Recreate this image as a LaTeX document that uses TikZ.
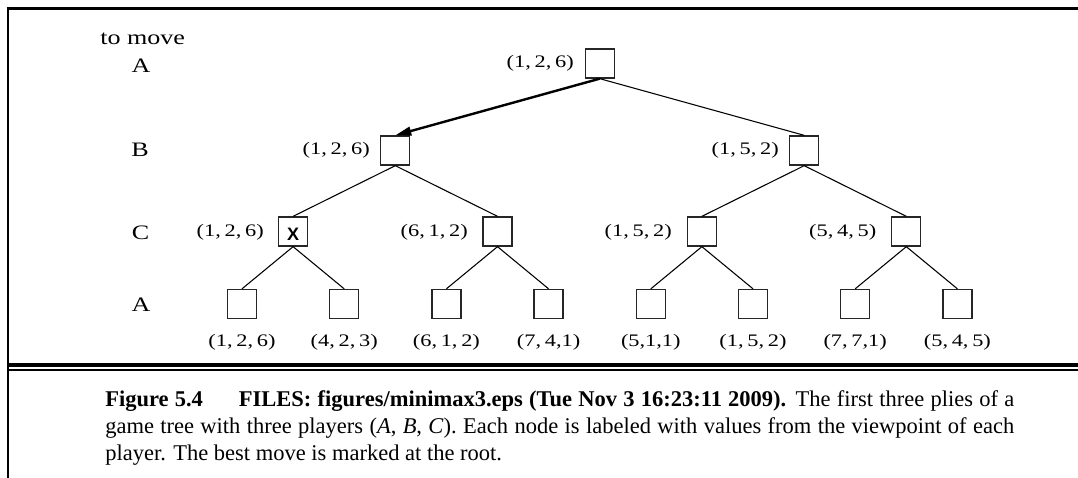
\documentclass[tikz,border=0pt]{standalone}
\usepackage{fontspec}
\setmainfont{Liberation Serif}
\newfontfamily\xfont{Liberation Sans}
\usepackage{graphicx}
\usetikzlibrary{arrows.meta}
\newcommand{\hs}[1]{\scalebox{1.27}[1]{#1}}
\begin{document}
\begin{tikzpicture}[x=0.75pt,y=-0.75pt,
  box/.style={draw=black!85, line width=1pt, minimum size=21.75pt, inner sep=0pt},
  edge/.style={line width=0.8pt},
  best/.style={line width=1.8pt, -{Triangle[length=12pt,width=6.5pt]}},
  val/.style={inner sep=0pt, font=\fontsize{13.2}{15}\selectfont},
  lvl/.style={inner sep=0pt, anchor=base, font=\fontsize{15.4}{18}\selectfont},
  captxt/.style={inner sep=0pt, anchor=base west, font=\fontsize{16.875}{20.25}\selectfont},
]
\useasboundingbox (0,0) rectangle (1078,478);
% frame
\draw[line width=2.25pt] (6.5,8.3) -- (1078,8.3);
\draw[line width=2pt] (8,7) -- (8,478);
\draw[line width=2.4pt] (8,365) -- (1078,365);
\draw[line width=1.7pt] (8,369.8) -- (1078,369.8);
% level labels
\node[lvl, anchor=base west] (tm) at (100,45) {\hs{to move}};
\node[lvl] (la) at (141,72.7) {\hs{A}};
\node[lvl] (lb) at (140,156.7) {\hs{B}};
\node[lvl] (lc) at (140.5,239.5) {\hs{C}};
\node[lvl] (ld) at (141,311.3) {\hs{A}};
% tree nodes
\node[box] (r) at (599.75,63.5) {};
\node[box] (b1) at (395.3,150.5) {};
\node[box] (b2) at (804.2,150.5) {};
\node[box] (c1) at (293.1,231.5) {};
\node[box] (c2) at (497.5,231.5) {};
\node[box] (c3) at (701.9,231.5) {};
\node[box] (c4) at (906.3,231.5) {};
\node[inner sep=0pt, font=\xfont\bfseries\fontsize{13.5}{15}\selectfont] (xm) at (293.1,234) {X};
\foreach \i/\x in {1/242,2/344.2,3/446.4,4/548.6,5/650.8,6/753,7/855.2,8/957.4}
  \node[box] (d\i) at (\x,304) {};
% edges
\draw[best] (r.south) -- (b1.north);
\draw[edge] (r.south) -- (b2.north);
\draw[edge] (b1.south) -- (c1.north);
\draw[edge] (b1.south) -- (c2.north);
\draw[edge] (b2.south) -- (c3.north);
\draw[edge] (b2.south) -- (c4.north);
\draw[edge] (c1.south) -- (d1.north);
\draw[edge] (c1.south) -- (d2.north);
\draw[edge] (c2.south) -- (d3.north);
\draw[edge] (c2.south) -- (d4.north);
\draw[edge] (c3.south) -- (d5.north);
\draw[edge] (c3.south) -- (d6.north);
\draw[edge] (c4.south) -- (d7.north);
\draw[edge] (c4.south) -- (d8.north);
% value labels
\node[val, anchor=east] (vr) at (574,63.5) {\hs{(1,\,2,\,6)}};
\node[val, anchor=east] (vb1) at (370,150.5) {\hs{(1,\,2,\,6)}};
\node[val, anchor=east] (vb2) at (779,150.5) {\hs{(1,\,5,\,2)}};
\node[val, anchor=east] (vc1) at (264,232) {\hs{(1,\,2,\,6)}};
\node[val, anchor=east] (vc2) at (468,232) {\hs{(6,\,1,\,2)}};
\node[val, anchor=east] (vc3) at (672,232) {\hs{(1,\,5,\,2)}};
\node[val, anchor=east] (vc4) at (876.5,232) {\hs{(5,\,4,\,5)}};
\node[val] (vd1) at (242,342) {\hs{(1,\,2,\,6)}};
\node[val] (vd2) at (344.2,342) {\hs{(4,\,2,\,3)}};
\node[val] (vd3) at (446.4,342) {\hs{(6,\,1,\,2)}};
\node[val] (vd4) at (548.6,342) {\hs{(7,\,4,1)}};
\node[val] (vd5) at (650.8,342) {\hs{(5,1,1)}};
\node[val] (vd6) at (753,342) {\hs{(1,\,5,\,2)}};
\node[val] (vd7) at (855.2,342) {\hs{(7,\,7,1)}};
\node[val] (vd8) at (957.4,342) {\hs{(5,\,4,\,5)}};
% caption
\node[captxt] (cap1) at (105,406) {\makebox[681.75pt][s]{\textbf{Figure 5.4}\hspace*{1.6em}\textbf{FILES: figures/minimax3.eps (Tue Nov 3 16:23:11 2009).} The first three plies of a}};
\node[captxt] (cap2) at (105,433) {\makebox[681.75pt][s]{game tree with three players (\textit{A}, \textit{B}, \textit{C}). Each node is labeled with values from the viewpoint of each}};
\node[captxt] (cap3) at (105,460) {player. The best move is marked at the root.};
\end{tikzpicture}
\end{document}
